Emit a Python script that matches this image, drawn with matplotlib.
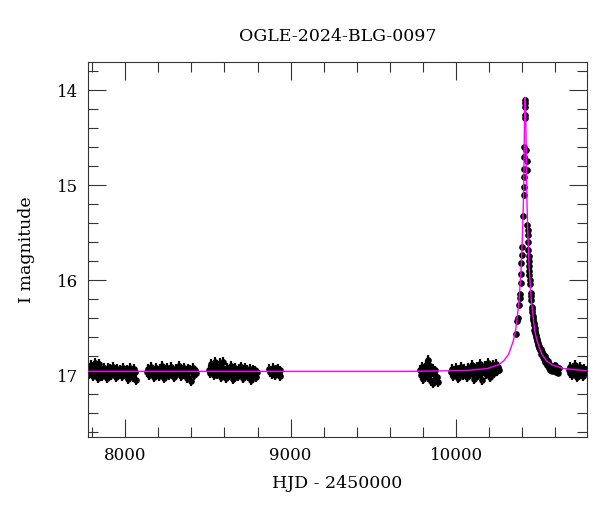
import matplotlib
matplotlib.use('Agg')
import matplotlib.pyplot as plt
from matplotlib.ticker import MultipleLocator

plt.rcParams['font.family'] = 'DejaVu Serif'
plt.rcParams['font.size'] = 12

title = 'OGLE-2024-BLG-0097'

# observing seasons (HJD - 2450000, I mag)
s1_t = [7772, 7778, 7784, 7790, 7796, 7802, 7808, 7814, 7820, 7826,
        7832, 7838, 7844, 7850, 7856, 7862, 7868, 7874, 7880, 7886,
        7892, 7898, 7904, 7910, 7916, 7922, 7928, 7934, 7940, 7946,
        7952, 7958, 7964, 7970, 7976, 7982, 7988, 7994, 8000, 8006,
        8012, 8018, 8024, 8030, 8036, 8042, 8048, 8054, 8060, 8065]
s1_m = [16.95, 16.99, 16.92, 16.97, 16.89, 16.96, 17.01, 16.93, 16.87, 16.98,
        16.94, 17.03, 16.88, 16.97, 16.94, 17.01, 16.96, 16.92, 16.99, 16.95,
        17.03, 16.92, 16.97, 16.93, 17.00, 16.96, 16.91, 16.98, 16.95, 17.02,
        16.93, 16.97, 16.99, 16.94, 16.96, 17.01, 16.92, 16.97, 16.95, 17.00,
        16.94, 17.04, 16.96, 16.92, 16.99, 16.95, 17.02, 16.93, 16.97, 17.05]

s2_t = [8134, 8140, 8146, 8152, 8158, 8164, 8170, 8176, 8182, 8188,
        8194, 8200, 8206, 8212, 8218, 8224, 8230, 8236, 8242, 8248,
        8254, 8260, 8266, 8272, 8278, 8284, 8290, 8296, 8302, 8308,
        8314, 8320, 8326, 8332, 8338, 8344, 8350, 8356, 8362, 8368,
        8374, 8380, 8386, 8392, 8398, 8404, 8410, 8416, 8422, 8428]
s2_m = [16.97, 16.93, 17.00, 16.95, 16.91, 16.98, 16.94, 17.02, 16.96, 16.92,
        16.99, 16.95, 17.01, 16.93, 16.97, 16.90, 16.96, 17.03, 16.94, 16.98,
        16.92, 16.97, 17.00, 16.95, 16.91, 16.99, 16.94, 17.02, 16.96, 16.93,
        16.98, 16.95, 16.90, 16.97, 17.01, 16.94, 16.96, 16.92, 16.99, 16.95,
        17.03, 16.93, 16.97, 16.94, 17.06, 16.96, 16.92, 17.00, 16.95, 16.98]

s3_t = [8504, 8510, 8516, 8522, 8528, 8534, 8540, 8546, 8552, 8558,
        8564, 8570, 8576, 8582, 8588, 8594, 8600, 8606, 8612, 8618,
        8624, 8630, 8636, 8642, 8648, 8654, 8660, 8666, 8672, 8678,
        8684, 8690, 8696, 8702, 8708, 8714, 8720, 8726, 8732, 8738,
        8744, 8750, 8756, 8762, 8768, 8774, 8780, 8786, 8792, 8798]
s3_m = [16.94, 16.98, 16.88, 16.96, 16.92, 17.00, 16.86, 16.95, 16.99, 16.91,
        16.97, 16.87, 16.94, 17.02, 16.93, 16.86, 16.98, 16.95, 17.03, 16.92,
        16.96, 17.00, 16.94, 16.90, 16.98, 17.04, 16.95, 16.92, 16.99, 16.96,
        17.01, 16.93, 16.97, 16.91, 16.98, 17.03, 16.95, 16.92, 16.99, 16.94,
        17.01, 16.96, 16.93, 17.05, 16.97, 16.94, 17.00, 16.95, 17.02, 16.97]

s4_t = [8868, 8874, 8880, 8886, 8892, 8898, 8904, 8910, 8916, 8922,
        8928, 8934, 8938]
s4_m = [16.93, 16.97, 16.95, 16.99, 16.92, 16.96, 17.00, 16.94, 16.97, 16.93,
        16.98, 16.95, 17.01]

s5_t = [9783, 9788, 9793, 9798, 9803, 9808, 9813, 9818, 9823, 9828,
        9833, 9838, 9843, 9848, 9853, 9858, 9863, 9868, 9873, 9878,
        9883, 9889]
s5_m = [16.94, 17.00, 16.91, 16.97, 17.04, 16.93, 16.98, 16.89, 16.96, 16.84,
        17.02, 16.95, 16.90, 17.06, 16.97, 16.93, 17.08, 16.99, 16.95, 17.05,
        17.02, 17.07]

s6_t = [9972, 9978, 9984, 9990, 9996, 10002, 10008, 10014, 10020, 10026,
        10032, 10038, 10044, 10050, 10056, 10062, 10068, 10074, 10080, 10086,
        10092, 10098, 10104, 10110, 10116, 10122, 10128, 10134, 10140, 10146,
        10152, 10158, 10164, 10170, 10176, 10182, 10188, 10194, 10200, 10206,
        10212, 10218, 10224, 10230, 10236, 10242, 10248, 10254, 10258]
s6_m = [16.97, 16.93, 17.01, 16.95, 16.99, 16.92, 16.97, 17.03, 16.94, 16.98,
        16.91, 16.96, 17.00, 16.93, 16.97, 16.95, 17.02, 16.92, 16.96, 16.99,
        16.94, 16.89, 16.97, 17.04, 16.93, 16.96, 16.91, 17.00, 16.95, 16.88,
        16.97, 17.05, 16.93, 16.96, 16.90, 16.99, 16.94, 16.87, 16.97, 17.02,
        16.92, 16.95, 16.89, 16.98, 16.93, 16.88, 16.96, 16.91, 16.94]

# event season
s7_t = [10362, 10371, 10373, 10381, 10384, 10384, 10392, 10393, 10395, 10396,
        10397, 10404, 10409, 10410, 10411, 10411, 10412, 10412, 10417, 10418,
        10418, 10419, 10419, 10425, 10426, 10427, 10432, 10433, 10434, 10436,
        10438, 10439, 10440, 10441, 10443, 10444, 10446, 10448, 10451, 10453,
        10455, 10458, 10460, 10462, 10464, 10466, 10468, 10470, 10472, 10474,
        10476, 10478, 10480, 10483, 10486, 10489, 10492, 10495, 10498, 10501,
        10504, 10508, 10512, 10516, 10520, 10524, 10528, 10532, 10536, 10540,
        10545, 10550, 10555, 10560, 10565, 10570, 10575, 10580, 10586, 10592,
        10598, 10604, 10610, 10616, 10620]
s7_m = [16.57, 16.43, 16.40, 16.26, 16.19, 16.15, 16.03, 15.94, 15.82, 15.74,
        15.65, 15.33, 15.10, 15.02, 14.91, 14.83, 14.70, 14.60, 14.10, 14.14,
        14.18, 14.26, 14.29, 14.63, 14.75, 14.84, 15.42, 15.47, 15.52, 15.60,
        15.68, 15.75, 15.80, 15.85, 15.90, 15.95, 16.00, 16.04, 16.13, 16.17,
        16.21, 16.28, 16.33, 16.30, 16.38, 16.42, 16.40, 16.47, 16.45, 16.52,
        16.50, 16.56, 16.54, 16.60, 16.58, 16.64, 16.62, 16.68, 16.66, 16.71,
        16.69, 16.74, 16.72, 16.78, 16.76, 16.81, 16.78, 16.83, 16.80, 16.86,
        16.83, 16.89, 16.85, 16.92, 16.88, 16.94, 16.90, 16.96, 16.91, 16.95,
        16.89, 16.97, 16.93, 16.98, 16.92]

s8_t = [10680, 10686, 10692, 10698, 10704, 10710, 10716, 10722, 10728, 10734,
        10740, 10746, 10752, 10758, 10764, 10770, 10776, 10782, 10788]
s8_m = [16.95, 16.91, 16.98, 16.94, 17.00, 16.92, 16.96, 16.89, 16.97, 17.02,
        16.94, 16.97, 16.91, 16.99, 16.95, 17.01, 16.93, 16.97, 16.95]

seasons = [(s1_t, s1_m), (s2_t, s2_m), (s3_t, s3_m), (s4_t, s4_m),
           (s5_t, s5_m), (s6_t, s6_m), (s7_t, s7_m), (s8_t, s8_m)]

# microlensing model curve
model_t = [7775, 9700, 10068, 10188, 10258, 10288, 10318, 10346, 10358, 10366,
           10381, 10394, 10402, 10407, 10410, 10412, 10414, 10416, 10418, 10420,
           10422, 10424, 10426, 10429, 10434, 10442, 10455, 10470, 10478, 10490,
           10518, 10548, 10578, 10648, 10768, 10795]
model_m = [16.96, 16.96, 16.95, 16.93, 16.89, 16.85, 16.78, 16.64, 16.55, 16.45,
           16.21, 15.87, 15.51, 15.20, 14.90, 14.62, 14.35, 14.15, 14.08, 14.15,
           14.35, 14.62, 14.90, 15.20, 15.51, 15.87, 16.21, 16.45, 16.55, 16.64,
           16.78, 16.85, 16.89, 16.93, 16.95, 16.955]

fig = plt.figure(figsize=(6.0, 5.12), dpi=100)
ax = fig.add_axes([0.1467, 0.1465, 0.8317, 0.7324])

for t, m in seasons:
    err = 0.05 if t is not s7_t else 0.025
    ax.errorbar(t, m, yerr=err, fmt='o', ms=4.8, mew=0, color='black',
                ecolor='black', elinewidth=1.6, capsize=2.2, capthick=1.2,
                zorder=2)

ax.plot(model_t, model_m, color='#ff00ff', lw=1.0, zorder=3)

ax.set_xlim(7775, 10792)
ax.set_ylim(17.65, 13.705)

ax.xaxis.set_major_locator(MultipleLocator(1000))
ax.xaxis.set_minor_locator(MultipleLocator(200))
ax.yaxis.set_major_locator(MultipleLocator(1))
ax.yaxis.set_minor_locator(MultipleLocator(0.2))
ax.tick_params(which='both', direction='in', top=True, right=True,
               width=0.8, color='#333333', labelsize=12)
ax.tick_params(which='major', length=13, pad=7)
ax.tick_params(which='minor', length=7)
for sp in ax.spines.values():
    sp.set_linewidth(0.8)
    sp.set_color('#333333')

ax.set_title(title, fontsize=12.5, pad=15)
ax.set_xlabel('HJD - 2450000', fontsize=12.5, labelpad=8)
ax.set_ylabel('I magnitude', fontsize=12.5, labelpad=16)

fig.savefig('out.png', dpi=100)
